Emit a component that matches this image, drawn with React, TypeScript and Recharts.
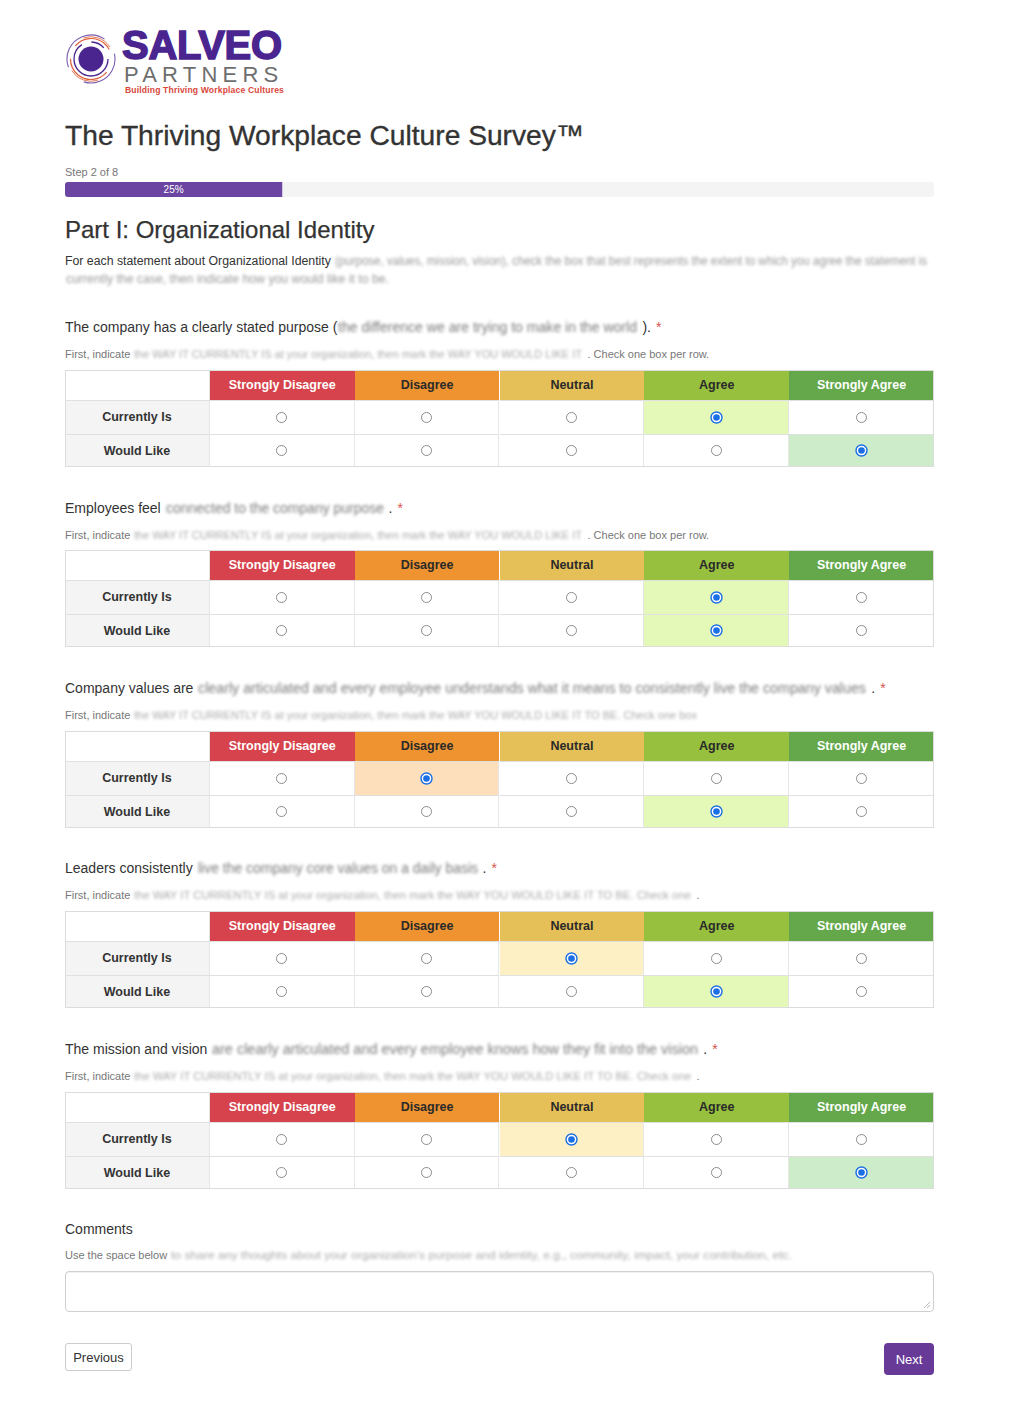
import React from "react";
import { BarChart, Bar, XAxis, YAxis, LabelList } from "recharts";

const FONT = '"Liberation Sans", Arial, Helvetica, sans-serif';

const scaleLabels = ["Strongly Disagree", "Disagree", "Neutral", "Agree", "Strongly Agree"];
const headerColors = ["#d6434c", "#ee932f", "#e5bf57", "#97c03e", "#64a84b"];
const headerText = ["#ffffff", "#2a2a2a", "#2a2a2a", "#2a2a2a", "#ffffff"];
const selectedBg = ["#f9d3d5", "#fddfbb", "#fdf0c4", "#e4f9b7", "#cdecc9"];
const rowLabels = ["Currently Is", "Would Like"];

const questionLead = [
  "The company has a clearly stated purpose (",
  "Employees feel ",
  "Company values are ",
  "Leaders consistently ",
  "The mission and vision ",
];
const questionHidden = [
  "the difference we are trying to make in the world",
  "connected to the company purpose",
  "clearly articulated and every employee understands what it means to consistently live the company values",
  "live the company core values on a daily basis",
  "are clearly articulated and every employee knows how they fit into the vision",
];
const questionTail = [").", ".", ".", ".", "."];
const hiddenWidths = [303, 222, 672, 284, 490];
const helperHiddenText = [
  "the WAY IT CURRENTLY IS at your organization, then mark the WAY YOU WOULD LIKE IT",
  "the WAY IT CURRENTLY IS at your organization, then mark the WAY YOU WOULD LIKE IT",
  "the WAY IT CURRENTLY IS at your organization, then mark the WAY YOU WOULD LIKE IT TO BE. Check one box",
  "the WAY IT CURRENTLY IS at your organization, then mark the WAY YOU WOULD LIKE IT TO BE. Check one",
  "the WAY IT CURRENTLY IS at your organization, then mark the WAY YOU WOULD LIKE IT TO BE. Check one",
];
const helperHidden = [452, 452, 567, 561, 561];
const helperTail = [". Check one box per row.", ". Check one box per row.", "", ".", "."];

const currentIs = [3, 3, 1, 2, 2];
const wouldLike = [4, 3, 3, 3, 4];

const titleY = [327, 508, 688, 868, 1049];
const tableY = [370, 550, 731, 911, 1092];

const progressData = [{ step: "Step 2 of 8", value: 25 }];

const LEFT = 65;
const WIDTH = 869;
const COLW = WIDTH / 6;

function Blur({ w, text, color = "#888", fs, lh }: { w: number; text: string; color?: string; fs: number; lh: number }) {
  return (
    <svg
      width={w}
      height={lh}
      style={{ display: "inline-block", verticalAlign: "top", filter: "blur(1.4px)", overflow: "visible", marginRight: 2 }}
    >
      <text
        x={1}
        y={lh / 2 + 0.35 * fs}
        fontSize={fs}
        fontFamily={FONT}
        fill={color}
        textLength={w - 4}
        lengthAdjust="spacingAndGlyphs"
      >
        {text}
      </text>
    </svg>
  );
}

function Radio({ on }: { on: boolean }) {
  return (
    <svg width={13} height={13} style={{ display: "block" }}>
      {on ? (
        <>
          <circle cx={6.5} cy={6.5} r={5.5} fill="#ffffff" stroke="#1a6fe6" strokeWidth={1.4} />
          <circle cx={6.5} cy={6.5} r={3.3} fill="#1a6fe6" />
        </>
      ) : (
        <circle cx={6.5} cy={6.5} r={5} fill="#ffffff" stroke="#8c8c8c" strokeWidth={1} />
      )}
    </svg>
  );
}

function Matrix({ top, sel }: { top: number; sel: number[] }) {
  const rowsY = [top, top + 30, top + 63.5, top + 97];
  const cells: React.ReactNode[] = [];
  for (let c = 0; c < 6; c++) {
    const x = LEFT + c * COLW;
    cells.push(
      <div
        key={"h" + c}
        style={{
          position: "absolute",
          left: x,
          top: rowsY[0],
          width: COLW,
          height: rowsY[1] - rowsY[0],
          background: c === 0 ? "#ffffff" : headerColors[c - 1],
          color: c === 0 ? "#333" : headerText[c - 1],
          fontWeight: 700,
          fontSize: 12.5,
          display: "flex",
          alignItems: "center",
          justifyContent: "center",
          boxSizing: "border-box",
          borderRight: c === 0 ? "1px solid #e3e3e3" : "none",
        }}
      >
        {c === 0 ? "" : scaleLabels[c - 1]}
      </div>
    );
    for (let r = 0; r < 2; r++) {
      const isSel = c > 0 && sel[r] === c - 1;
      cells.push(
        <div
          key={"c" + c + "-" + r}
          style={{
            position: "absolute",
            left: x,
            top: rowsY[r + 1],
            width: COLW,
            height: rowsY[r + 2] - rowsY[r + 1],
            background: c === 0 ? "#f4f4f4" : isSel ? selectedBg[c - 1] : "#ffffff",
            color: "#333",
            fontWeight: 700,
            fontSize: 12.5,
            display: "flex",
            alignItems: "center",
            justifyContent: "center",
            boxSizing: "border-box",
            borderTop: "1px solid #e0e0e0",
            borderRight: c < 5 ? "1px solid #e6e6e6" : "none",
          }}
        >
          {c === 0 ? rowLabels[r] : <Radio on={isSel} />}
        </div>
      );
    }
  }
  return (
    <>
      {cells}
      <div
        style={{
          position: "absolute",
          left: LEFT,
          top: top,
          width: WIDTH,
          height: 97,
          boxSizing: "border-box",
          border: "1px solid #dcdcdc",
          pointerEvents: "none",
        }}
      />
    </>
  );
}

function Logo() {
  return (
    <div style={{ position: "absolute", left: 64, top: 30, width: 230, height: 66 }}>
      <svg width={54} height={54} style={{ position: "absolute", left: 0, top: 2 }}>
        <circle cx={27} cy={27} r={12.5} fill="#4a2590" />
        <circle cx={27} cy={27} r={17} fill="none" stroke="#4a2590" strokeWidth={1.3} strokeDasharray="70 10 14 20" />
        <circle cx={27} cy={27} r={20.5} fill="none" stroke="#e0603a" strokeWidth={1.2} strokeDasharray="50 14 40 25" transform="rotate(40 27 27)" />
        <circle cx={27} cy={27} r={24} fill="none" stroke="#7a5fb0" strokeWidth={1.1} strokeDasharray="60 18 50 22" transform="rotate(160 27 27)" />
        <circle cx={27} cy={27} r={22.3} fill="none" stroke="#e57a5a" strokeWidth={0.9} strokeDasharray="30 40 30 40" transform="rotate(250 27 27)" />
      </svg>
      <div
        style={{
          position: "absolute",
          left: 58,
          top: -1,
          fontSize: 40,
          lineHeight: "32px",
          fontWeight: 900,
          color: "#4a2590",
          WebkitTextStroke: "1.5px #4a2590",
          letterSpacing: -0.3,
          fontFamily: FONT,
        }}
      >
        SALVEO
      </div>
      <div
        style={{
          position: "absolute",
          left: 60,
          top: 36,
          fontSize: 22,
          lineHeight: "18px",
          fontWeight: 300,
          color: "#6e6e6e",
          letterSpacing: 5.2,
          fontFamily: FONT,
        }}
      >
        PARTNERS
      </div>
      <div
        style={{
          position: "absolute",
          left: 61,
          top: 55,
          fontSize: 8.6,
          lineHeight: "10px",
          fontWeight: 700,
          letterSpacing: 0.15,
          color: "#d9473b",
          whiteSpace: "nowrap",
          fontFamily: FONT,
        }}
      >
        Building Thriving Workplace Cultures
      </div>
    </div>
  );
}

function Abs({ top, left = LEFT, children, style }: { top: number; left?: number; children: React.ReactNode; style?: React.CSSProperties }) {
  return (
    <div style={{ position: "absolute", top, left, whiteSpace: "nowrap", ...style }}>{children}</div>
  );
}

export default function App() {
  return (
    <div
      style={{
        position: "absolute",
        left: 0,
        top: 0,
        width: 1024,
        height: 1401,
        background: "#ffffff",
        fontFamily: FONT,
        color: "#333",
        overflow: "hidden",
      }}
    >
      <Logo />
      <Abs top={119} style={{ fontSize: 28.2, lineHeight: "32px", color: "#333", WebkitTextStroke: "0.35px #333" }}>
        The Thriving Workplace Culture Survey™
      </Abs>
      <Abs top={165} style={{ fontSize: 11, lineHeight: "14px", color: "#777" }}>
        Step 2 of 8
      </Abs>
      <div
        style={{
          position: "absolute",
          left: LEFT,
          top: 182,
          width: WIDTH,
          height: 15,
          borderRadius: 3,
          overflow: "hidden",
          boxShadow: "inset 0 1px 1px rgba(0,0,0,0.06)",
        }}
      >
        <BarChart
          width={WIDTH}
          height={15}
          data={progressData}
          layout="vertical"
          margin={{ top: 0, right: 0, bottom: 0, left: 0 }}
          barCategoryGap={0}
        >
          <XAxis type="number" domain={[0, 100]} hide />
          <YAxis type="category" dataKey="step" hide width={0} />
          <Bar dataKey="value" fill="#6b45a1" background={{ fill: "#f4f4f4" }} isAnimationActive={false}>
            <LabelList
              dataKey="value"
              position="center"
              formatter={(v: any) => `${v}%`}
              fill="#ffffff"
              fontSize={10}
              fontFamily={FONT}
            />
          </Bar>
        </BarChart>
      </div>
      <Abs top={216} style={{ fontSize: 24, lineHeight: "28px", color: "#333", WebkitTextStroke: "0.25px #333" }}>
        Part I: Organizational Identity
      </Abs>
      <Abs top={252} style={{ fontSize: 12.3, lineHeight: "18px", color: "#333" }}>
        {"For each statement about Organizational Identity "}
        <Blur
          w={596}
          fs={12.3}
          lh={18}
          text="(purpose, values, mission, vision), check the box that best represents the extent to which you agree the statement is"
          color="#999"
        />
      </Abs>
      <Abs top={270} style={{ fontSize: 12.3, lineHeight: "18px", color: "#333" }}>
        <Blur w={327} fs={12.3} lh={18} text="currently the case, then indicate how you would like it to be." color="#999" />
      </Abs>

      {questionLead.map((lead, i) => (
        <React.Fragment key={i}>
          <Abs top={titleY[i] - 9} style={{ fontSize: 14, lineHeight: "18px", color: "#333" }}>
            {lead}
            <Blur w={hiddenWidths[i]} fs={14} lh={18} text={questionHidden[i]} color="#7a7a7a" />
            {questionTail[i]}
            <span style={{ color: "#d9534f", marginLeft: 5 }}>*</span>
          </Abs>
          <Abs top={titleY[i] + 20} style={{ fontSize: 11, lineHeight: "14px", color: "#777" }}>
            {"First, indicate "}
            <Blur w={helperHidden[i]} fs={11} lh={14} text={helperHiddenText[i]} color="#aaa" />
            {helperTail[i]}
          </Abs>
          <Matrix top={tableY[i]} sel={[currentIs[i], wouldLike[i]]} />
        </React.Fragment>
      ))}

      <Abs top={1220} style={{ fontSize: 14, lineHeight: "18px", color: "#333" }}>
        Comments
      </Abs>
      <Abs top={1248} style={{ fontSize: 11, lineHeight: "14px", color: "#777" }}>
        {"Use the space below "}
        <Blur
          w={625}
          fs={11}
          lh={14}
          text="to share any thoughts about your organization's purpose and identity, e.g., community, impact, your contribution, etc."
          color="#aaa"
        />
      </Abs>
      <div
        style={{
          position: "absolute",
          left: LEFT,
          top: 1271,
          width: WIDTH,
          height: 41,
          boxSizing: "border-box",
          border: "1px solid #cfcfcf",
          borderRadius: 4,
          boxShadow: "inset 0 1px 1px rgba(0,0,0,0.06)",
        }}
      >
        <svg width={8} height={8} style={{ position: "absolute", right: 2, bottom: 2 }}>
          <line x1={1} y1={7} x2={7} y2={1} stroke="#aaa" strokeWidth={0.8} />
          <line x1={4} y1={7} x2={7} y2={4} stroke="#aaa" strokeWidth={0.8} />
        </svg>
      </div>
      <div
        style={{
          position: "absolute",
          left: LEFT,
          top: 1343,
          width: 67,
          height: 28,
          boxSizing: "border-box",
          border: "1px solid #cccccc",
          borderRadius: 3,
          fontSize: 13,
          color: "#333",
          display: "flex",
          alignItems: "center",
          justifyContent: "center",
          background: "#fff",
        }}
      >
        Previous
      </div>
      <div
        style={{
          position: "absolute",
          left: 884,
          top: 1343,
          width: 50,
          height: 32,
          boxSizing: "border-box",
          borderRadius: 4,
          fontSize: 13,
          color: "#fff",
          display: "flex",
          alignItems: "center",
          justifyContent: "center",
          background: "#673a97",
        }}
      >
        Next
      </div>
    </div>
  );
}
